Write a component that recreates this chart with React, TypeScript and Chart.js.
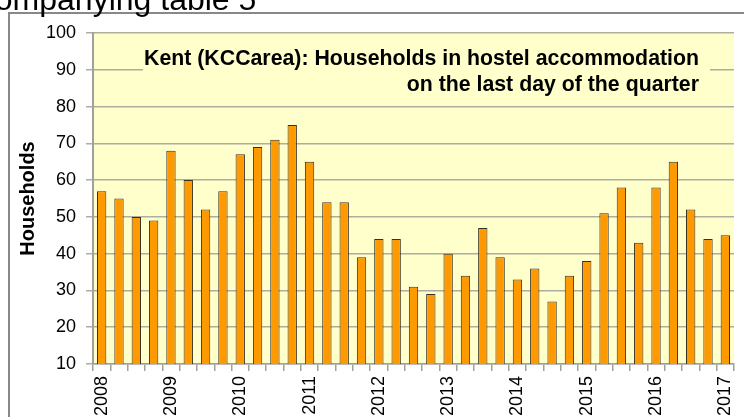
import React, { useEffect, useRef } from 'react';
import { Chart, registerables } from 'chart.js';

Chart.register(...registerables);

const categories = [
  '2008 Q1', '2008 Q2', '2008 Q3', '2008 Q4',
  '2009 Q1', '2009 Q2', '2009 Q3', '2009 Q4',
  '2010 Q1', '2010 Q2', '2010 Q3', '2010 Q4',
  '2011 Q1', '2011 Q2', '2011 Q3', '2011 Q4',
  '2012 Q1', '2012 Q2', '2012 Q3', '2012 Q4',
  '2013 Q1', '2013 Q2', '2013 Q3', '2013 Q4',
  '2014 Q1', '2014 Q2', '2014 Q3', '2014 Q4',
  '2015 Q1', '2015 Q2', '2015 Q3', '2015 Q4',
  '2016 Q1', '2016 Q2', '2016 Q3', '2016 Q4',
  '2017 Q1',
];

const households = [
  57, 55, 50, 49,
  68, 60, 52, 57,
  67, 69, 71, 75,
  65, 54, 54, 39,
  44, 44, 31, 29,
  40, 34, 47, 39,
  33, 36, 27, 34,
  38, 51, 58, 43,
  58, 65, 52, 44,
  45,
];

const yMin = 10;
const yMax = 100;
const yStep = 10;

const titleLines = [
  'Kent (KCCarea): Households in hostel accommodation',
  'on the last day of the quarter',
];
const yAxisTitle = 'Households';
const pageText = 'accompanying table 5';

const FONT = '"Liberation Sans", Arial, sans-serif';
const PLOT_BG = '#FFFFCC';
const GRID = '#ADADA0';
const AXIS = '#A0A0A0';

const decor = {
  id: 'decor',
  beforeDraw(chart: any) {
    const { ctx, width, height, chartArea } = chart;
    ctx.save();
    ctx.fillStyle = '#ffffff';
    ctx.fillRect(0, 0, width, height);
    ctx.strokeStyle = '#888888';
    ctx.lineWidth = 2;
    ctx.beginPath();
    ctx.moveTo(9, height);
    ctx.lineTo(9, 13);
    ctx.lineTo(width, 13);
    ctx.stroke();
    ctx.fillStyle = PLOT_BG;
    ctx.fillRect(chartArea.left, chartArea.top, chartArea.right - chartArea.left, chartArea.bottom - chartArea.top);
    ctx.restore();
  },
  beforeDatasetsDraw(chart: any) {
    const { ctx } = chart;
    ctx.save();
    ctx.fillStyle = PLOT_BG;
    ctx.fillRect(143, 41, 567, 58);
    ctx.fillStyle = '#000000';
    ctx.font = `bold 21.3px ${FONT}`;
    ctx.textAlign = 'right';
    ctx.textBaseline = 'alphabetic';
    ctx.fillText(titleLines[0], 699, 65);
    ctx.fillText(titleLines[1], 699, 91);
    ctx.restore();
  },
};

export default function App() {
  const canvasRef = useRef<HTMLCanvasElement | null>(null);

  useEffect(() => {
    const canvas = canvasRef.current;
    if (!canvas) return;
    const chart = new Chart(canvas, {
      type: 'bar',
      data: {
        labels: categories,
        datasets: [
          {
            label: 'Households',
            data: households,
            backgroundColor: '#FF9900',
            borderColor: '#3a3020',
            borderWidth: 1,
            barPercentage: 0.54,
            categoryPercentage: 1,
          },
        ],
      },
      options: {
        animation: false,
        responsive: false,
        maintainAspectRatio: false,
        layout: { padding: { top: 33, right: 10, bottom: 0, left: 0 } },
        plugins: {
          legend: { display: false },
          tooltip: { enabled: false },
          title: { display: false },
        },
        scales: {
          x: {
            offset: true,
            grid: {
              offset: true,
              drawOnChartArea: false,
              drawTicks: true,
              tickLength: 7,
              color: AXIS,
              lineWidth: 1.5,
            },
            border: { display: true, color: AXIS, width: 1.5 },
            ticks: {
              autoSkip: false,
              maxRotation: 90,
              minRotation: 90,
              padding: 5,
              color: '#000000',
              font: { family: FONT, size: 18 },
              callback: (_v: any, i: number) => {
                const c = categories[i];
                return c.endsWith('Q1') ? c.slice(0, 4) : '';
              },
            },
            afterFit: (scale: any) => {
              scale.height = 53;
              scale.paddingLeft = 0;
              scale.paddingRight = 0;
            },
          },
          y: {
            min: yMin,
            max: yMax,
            ticks: {
              stepSize: yStep,
              padding: 10,
              color: '#000000',
              font: { family: FONT, size: 18 },
            },
            grid: {
              color: GRID,
              lineWidth: 1.5,
              tickLength: 7,
              drawTicks: true,
            },
            border: { display: true, color: AXIS, width: 2 },
            title: {
              display: true,
              text: yAxisTitle,
              color: '#000000',
              font: { family: FONT, size: 20, weight: 'bold' },
              padding: { top: 16, bottom: 0 },
            },
            afterFit: (scale: any) => {
              scale.width = 93;
              scale.paddingTop = 0;
              scale.paddingBottom = 0;
            },
          },
        },
      },
      plugins: [decor],
    });
    return () => chart.destroy();
  }, []);

  return (
    <div
      style={{
        position: 'fixed',
        left: 0,
        top: 0,
        width: 744,
        height: 417,
        overflow: 'hidden',
        background: '#ffffff',
      }}
    >
      <canvas
        ref={canvasRef}
        width={744}
        height={417}
        style={{ position: 'absolute', left: 0, top: 0, width: 744, height: 417 }}
      />
      <div
        style={{
          position: 'absolute',
          left: -55,
          top: -17,
          font: `32px ${FONT}`,
          lineHeight: '32px',
          whiteSpace: 'nowrap',
          color: '#000000',
        }}
      >
        {pageText}
      </div>
    </div>
  );
}
